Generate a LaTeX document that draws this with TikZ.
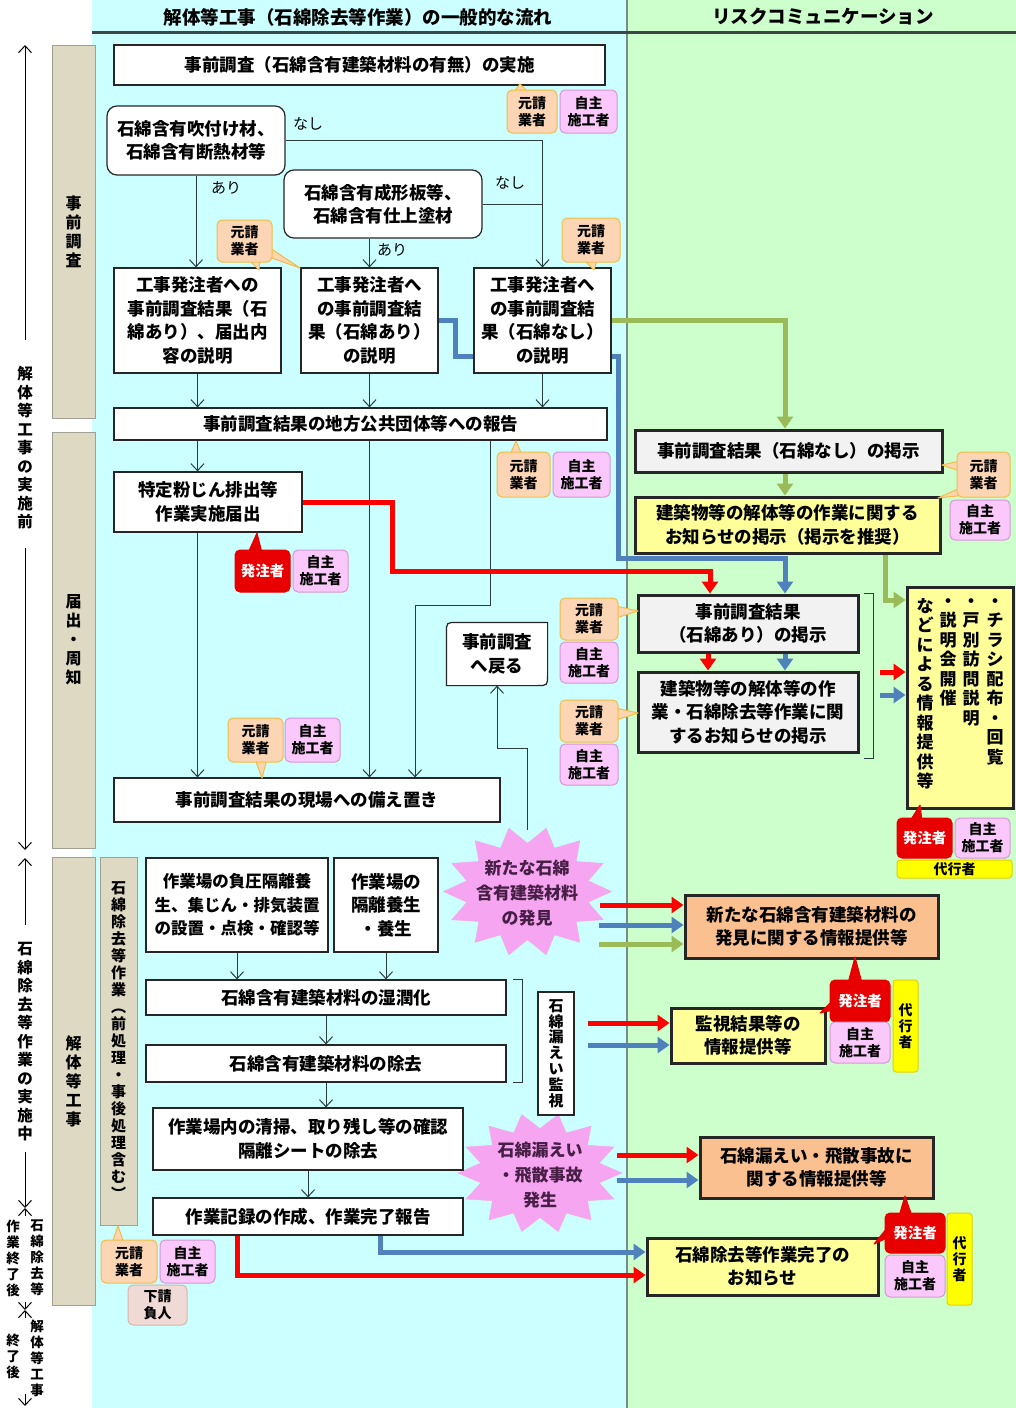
\documentclass[tikz,border=0pt]{standalone}
\usepackage{fontspec}
\setmainfont{Noto Sans CJK JP}
\usetikzlibrary{arrows.meta,calc}
\definecolor{cyanbg}{RGB}{204,255,255}
\definecolor{greenbg}{RGB}{204,255,204}
\definecolor{phasefill}{RGB}{221,217,195}
\definecolor{phaseedge}{RGB}{160,160,150}
\definecolor{gkfill}{RGB}{252,213,180}
\definecolor{gkedge}{RGB}{240,190,70}
\definecolor{jsfill}{RGB}{250,200,250}
\definecolor{jsedge}{RGB}{215,150,215}
\definecolor{hcfill}{RGB}{232,0,0}
\definecolor{dkfill}{RGB}{255,255,0}
\definecolor{dkedge}{RGB}{225,210,0}
\definecolor{stfill}{RGB}{240,218,214}
\definecolor{stedge}{RGB}{215,180,175}
\definecolor{boxgray}{RGB}{242,242,242}
\definecolor{boxyel}{RGB}{255,255,153}
\definecolor{boxorg}{RGB}{250,192,144}
\definecolor{arrred}{RGB}{255,0,0}
\definecolor{arrblue}{RGB}{79,129,189}
\definecolor{arrgreen}{RGB}{155,187,89}
\definecolor{flowc}{RGB}{40,60,60}
\definecolor{starfill}{RGB}{246,165,240}
\definecolor{startext}{RGB}{70,30,70}
\definecolor{divc}{RGB}{120,140,140}
\definecolor{headc}{RGB}{60,70,70}
\newcommand\fs[2]{\fontsize{#1}{#2}\selectfont}
\makeatletter
\def\vt#1{\vt@a#1\@nil}
\def\vt@a#1#2\@nil{#1\ifx\relax#2\relax\expandafter\@gobble\else\expandafter\@firstofone\fi{\\\vt@a#2\@nil}}
\makeatother
\newcommand\tail[4]{\filldraw[#1] #2 -- #3 -- #4 -- cycle;}
\newcommand\starburst[4]{\filldraw[fill=starfill, draw=starfill] ({#1+#3},#2) \foreach \k in {1,...,27}{ -- ({#1+ifthenelse(mod(\k,2)==0,1,0.74)*#3*cos(\k*12.857)},{#2+ifthenelse(mod(\k,2)==0,1,0.74)*#4*sin(\k*12.857)}) } -- cycle;}
\pgfdeclarelayer{back}
\pgfdeclarelayer{mid}
\pgfsetlayers{back,mid,main}
\tikzset{
 box/.style={draw=black!85, line width=1.2pt, fill=white, align=center, inner sep=0pt, font=\bfseries\fs{17.5}{23.5}},
 rbox/.style={box, rounded corners=10pt},
 thickbox/.style={box, line width=3pt},
 graybox/.style={thickbox, fill=boxgray},
 yelbox/.style={thickbox, fill=boxyel},
 orgbox/.style={thickbox, fill=boxorg},
 phase/.style={draw=phaseedge, fill=phasefill, line width=1pt, align=center, inner sep=0pt, font=\bfseries\fs{16}{19}},
 bub/.style={rounded corners=5pt, line width=1pt, align=center, inner sep=0pt, font=\bfseries\fs{14}{17}},
 genkou/.style={bub, fill=gkfill, draw=gkedge},
 jishu/.style={bub, fill=jsfill, draw=jsedge},
 hacchu/.style={bub, fill=hcfill, draw=hcfill, text=white, font=\bfseries\fs{14.5}{17}},
 daiko/.style={bub, rounded corners=3pt, fill=dkfill, draw=dkedge, font=\bfseries\fs{14}{16}},
 shita/.style={bub, fill=stfill, draw=stedge},
 tailg/.style={fill=gkfill, draw=gkedge, line width=1pt, line join=round},
 tailh/.style={fill=hcfill, draw=hcfill, line width=1pt, line join=round},
 flow/.style={draw=flowc, line width=1pt, -{Straight Barb[length=7pt,width=13pt]}},
 plain/.style={draw=flowc, line width=1pt},
 mline/.style={draw=black, line width=1pt},
 redarr/.style={draw=arrred, line width=5pt, -{Triangle[length=12pt,width=16pt]}},
 bluearr/.style={draw=arrblue, line width=5pt, -{Triangle[length=12pt,width=16pt]}},
 greenarr/.style={draw=arrgreen, line width=5pt, -{Triangle[length=12pt,width=16pt]}},
 lbl/.style={font=\fs{15}{17}, inner sep=0pt},
 vtxt/.style={font=\bfseries\fs{17}{19.5}, align=center, inner sep=0pt},
 startxt/.style={font=\bfseries\fs{17}{25}, align=center, inner sep=0pt, text=startext},
 margin/.style={font=\bfseries\fs{15.5}{18.5}, align=center, inner sep=0pt},
 marginsm/.style={font=\bfseries\fs{13.5}{16}, align=center, inner sep=0pt},
}
\begin{document}
\begin{tikzpicture}[x=1pt,y=-1pt]
\useasboundingbox (0,0) rectangle (1016,1408);
% ---------- headings
\node[font=\bfseries\fs{18.5}{20}, inner sep=0pt] (h1) at (358,17) {解体等工事（石綿除去等作業）の一般的な流れ};
\node[font=\bfseries\fs{18.5}{20}, inner sep=0pt] (h2) at (823,17) {リスクコミュニケーション};
% ---------- phase bars
\node[phase, minimum width=43, minimum height=373] (ph1) at (73.5,231.5) {\vt{事前調査}};
\node[phase, minimum width=43, minimum height=416] (ph2) at (73.5,640) {\vt{届出・周知}};
\node[phase, minimum width=43, minimum height=448] (ph3) at (73.5,1081) {\vt{解体等工事}};
\node[phase, minimum width=37, minimum height=368, font=\bfseries\fs{15}{17}] (ph4) at (118.5,1041) {\vt{石綿除去等作業︵前処理・事後処理含む︶}};
% ---------- left margin texts
\node[margin] (lm1) at (25,448) {\vt{解体等工事の実施前}};
\node[margin] (lm2) at (25,1042) {\vt{石綿除去等作業の実施中}};
\node[marginsm] (lm3a) at (37,1258) {\vt{石綿除去等}};
\node[marginsm] (lm3b) at (13,1258) {\vt{作業終了後}};
\node[marginsm] (lm4a) at (37,1358) {\vt{解体等工事}};
\node[marginsm] (lm4b) at (13,1356) {\vt{終了後}};
% ---------- left column boxes
\node[box, minimum width=491, minimum height=40] (bA) at (359.5,65) {事前調査（石綿含有建築材料の有無）の実施};
\node[rbox, minimum width=178, minimum height=69] (bB) at (196,140.5) {石綿含有吹付け材、\\石綿含有断熱材等};
\node[rbox, minimum width=198, minimum height=68] (bD0) at (383,204) {石綿含有成形板等、\\石綿含有仕上塗材};
\node[box, minimum width=167, minimum height=105] (bC) at (197.5,320.5) {工事発注者への\\事前調査結果（石\\綿あり）、届出内\\容の説明};
\node[box, minimum width=137, minimum height=105] (bD) at (369.5,320.5) {工事発注者へ\\の事前調査結\\果（石綿あり）\\の説明};
\node[box, minimum width=137, minimum height=105] (bE) at (542.5,320.5) {工事発注者へ\\の事前調査結\\果（石綿なし）\\の説明};
\node[box, minimum width=493, minimum height=32] (bF) at (360.5,424) {事前調査結果の地方公共団体等への報告};
\node[box, minimum width=188, minimum height=60] (bF2) at (208,502) {特定粉じん排出等\\作業実施届出};
\node[box, draw=none, fill=none, minimum width=100, minimum height=62] (bH2) at (497,654) {事前調査\\へ戻る};
\node[box, minimum width=386, minimum height=44] (bI) at (307,800) {事前調査結果の現場への備え置き};
\node[lbl] (tn1) at (308,124) {なし};
\node[lbl] (ta1) at (226,188) {あり};
\node[lbl] (tn2) at (510,183) {なし};
\node[lbl] (ta2) at (392,250) {あり};
% ---------- lower left
\node[box, minimum width=182, minimum height=94, font=\bfseries\fs{16.5}{23.5}] (bK1) at (237,905) {作業場の負圧隔離養\\生、集じん・排気装置\\の設置・点検・確認等};
\node[box, minimum width=104, minimum height=94] (bK2) at (386,905) {作業場の\\隔離養生\\・養生};
\node[box, minimum width=360, minimum height=35] (bL) at (326,997.5) {石綿含有建築材料の湿潤化};
\node[box, minimum width=360, minimum height=37] (bM) at (326,1063.5) {石綿含有建築材料の除去};
\node[box, minimum width=36, minimum height=123, font=\bfseries\fs{15}{15.8}] (bN) at (556,1053.5) {\vt{石綿漏えい監視}};
\node[box, minimum width=310, minimum height=62] (bO) at (308,1139) {作業場内の清掃、取り残し等の確認\\隔離シートの除去};
\node[box, minimum width=310, minimum height=37] (bP) at (308,1216.5) {作業記録の作成、作業完了報告};
% ---------- right column
\node[graybox, minimum width=307, minimum height=42] (bG) at (788.5,451) {事前調査結果（石綿なし）の掲示};
\node[yelbox, minimum width=305, minimum height=56] (bG2) at (787.5,525) {建築物等の解体等の作業に関する\\お知らせの掲示（掲示を推奨）};
\node[graybox, minimum width=220, minimum height=57] (bH) at (748,623.5) {事前調査結果\\（石綿あり）の掲示};
\node[graybox, minimum width=220, minimum height=80] (bH3) at (748,712) {建築物等の解体等の作\\業・石綿除去等作業に関\\するお知らせの掲示};
\node[yelbox, minimum width=106, minimum height=221] (bJ) at (960,697.5) {};
\node[vtxt, anchor=north] (jc1) at (995,598) {\vt{・チラシ配布・回覧}};
\node[vtxt, anchor=north] (jc2) at (971,598) {\vt{・戸別訪問説明}};
\node[vtxt, anchor=north] (jc3) at (948,598) {\vt{・説明会開催}};
\node[vtxt, anchor=north] (jc4) at (925,598) {\vt{などによる情報提供等}};
\node[orgbox, minimum width=253, minimum height=63] (bQ) at (811.5,926.5) {新たな石綿含有建築材料の\\発見に関する情報提供等};
\node[yelbox, minimum width=154, minimum height=55] (bR) at (748,1035.5) {監視結果等の\\情報提供等};
\node[orgbox, minimum width=233, minimum height=61] (bU) at (816.5,1167.5) {石綿漏えい・飛散事故に\\関する情報提供等};
\node[yelbox, minimum width=231, minimum height=57] (bT) at (762.5,1266.5) {石綿除去等作業完了の\\お知らせ};
% ---------- star texts
\node[startxt] (s1) at (527,893) {新たな石綿\\含有建築材料\\の発見};
\node[startxt] (s2) at (540,1175) {石綿漏えい\\・飛散事故\\発生};
% ---------- bubble tails
\tail{tailg}{(514,92)}{(520,84)}{(528,92)}
\tail{tailg}{(248,259)}{(259,270)}{(260,259)}
\tail{tailg}{(266,256)}{(300,268)}{(270,248)}
\tail{tailg}{(584,260)}{(594,270)}{(597,260)}
\tail{tailg}{(510,455)}{(516,441)}{(522,455)}
\tail{tailh}{(248,553)}{(257,533)}{(262,553)}
\tail{tailg}{(255,759)}{(262,778)}{(267,759)}
\tail{tailg}{(960,461)}{(942,465)}{(960,471)}
\tail{tailg}{(960,488)}{(938,498)}{(966,495)}
\tail{tailg}{(616,606)}{(638,611)}{(616,618)}
\tail{tailg}{(616,708)}{(638,713)}{(616,720)}
\tail{tailh}{(910,821)}{(920,805)}{(922,821)}
\tail{tailh}{(848,983)}{(855,957)}{(862,983)}
\tail{tailh}{(833,1000)}{(820,1013)}{(833,1010)}
\tail{tailh}{(899,1216)}{(905,1196)}{(912,1216)}
\tail{tailh}{(887,1228)}{(874,1244)}{(887,1238)}
\tail{tailg}{(112,1243)}{(118,1226)}{(124,1243)}
% ---------- bubbles
\node[genkou, minimum width=50, minimum height=43] (g1) at (532,111.5) {元請\\業者};
\node[jishu, minimum width=57, minimum height=43] (j1) at (588.5,111.5) {自主\\施工者};
\node[genkou, minimum width=55, minimum height=42] (g2) at (244.5,241) {元請\\業者};
\node[genkou, minimum width=58, minimum height=44] (g3) at (591,240) {元請\\業者};
\node[genkou, minimum width=53, minimum height=45] (g4) at (523.5,474.5) {元請\\業者};
\node[jishu, minimum width=57, minimum height=45] (j4) at (581.5,474.5) {自主\\施工者};
\node[hacchu, minimum width=55, minimum height=42] (h5) at (262.5,571) {発注者};
\node[jishu, minimum width=55, minimum height=42] (j5) at (320.5,571) {自主\\施工者};
\node[genkou, minimum width=55, minimum height=44] (g6) at (255.5,740) {元請\\業者};
\node[jishu, minimum width=55, minimum height=44] (j6) at (312.5,740) {自主\\施工者};
\node[genkou, minimum width=53, minimum height=45] (g7) at (983.5,474.5) {元請\\業者};
\node[jishu, minimum width=60, minimum height=40] (j7) at (980,520) {自主\\施工者};
\node[genkou, minimum width=58, minimum height=42] (g8) at (589,619) {元請\\業者};
\node[jishu, minimum width=58, minimum height=41] (j8) at (589,662.5) {自主\\施工者};
\node[genkou, minimum width=58, minimum height=42] (g9) at (589,721) {元請\\業者};
\node[jishu, minimum width=58, minimum height=41] (j9) at (589,764.5) {自主\\施工者};
\node[hacchu, minimum width=55, minimum height=40] (h10) at (924.5,838) {発注者};
\node[jishu, minimum width=55, minimum height=40] (j10) at (982.5,838) {自主\\施工者};
\node[daiko, minimum width=115, minimum height=18] (d10) at (954.5,869) {代行者};
\node[hacchu, minimum width=60, minimum height=42] (h11) at (860,1001) {発注者};
\node[jishu, minimum width=60, minimum height=41] (j11) at (860,1042.5) {自主\\施工者};
\node[daiko, minimum width=25, minimum height=92] (d11) at (905.5,1026) {\vt{代行者}};
\node[hacchu, minimum width=60, minimum height=40] (h12) at (915,1233) {発注者};
\node[jishu, minimum width=60, minimum height=42] (j12) at (915,1276) {自主\\施工者};
\node[daiko, minimum width=25, minimum height=92] (d12) at (959.5,1259) {\vt{代行者}};
\node[genkou, minimum width=56, minimum height=43] (g13) at (129,1261.5) {元請\\業者};
\node[jishu, minimum width=55, minimum height=43] (j13) at (187.5,1261.5) {自主\\施工者};
\node[shita, minimum width=59, minimum height=40] (s13) at (157.5,1305) {下請\\負人};
% ---------- coordinates
\coordinate (s1top) at (527,830);
\coordinate (s1a) at (600,905);
\coordinate (s1b) at (599,925);
\coordinate (s1c) at (599,944);
\coordinate (na) at (588,1023);
\coordinate (nb) at (588,1045);
\coordinate (s2a) at (617,1155);
\coordinate (s2b) at (617,1180);
\coordinate (ja) at (880,672);
\coordinate (jb) at (880,695);
\coordinate (pb) at ($(bP.south)+(72,0)$);
\coordinate (pr) at ($(bP.south)+(-71,0)$);
% ---------- connectors
\begin{pgfonlayer}{mid}
\draw[flow] (bB.south) -- (bB.south |- bC.north);
\draw[flow] (bB.east) -| (bE.north);
\draw[plain] (bD0.east) -- (bD0.east -| bE.north);
\draw[flow] (bD0.south -| bD.north) -- (bD.north);
\draw[flow] (bC.south) -- (bC.south |- bF.north);
\draw[flow] (bD.south) -- (bD.south |- bF.north);
\draw[flow] (bE.south) -- (bE.south |- bF.north);
\draw[flow] (bC.south |- bF.south) -- (bC.south |- bF2.north);
\draw[flow] (bC.south |- bF2.south) -- (bC.south |- bI.north);
\draw[flow] (bD.south |- bF.south) -- (bD.south |- bI.north);
\draw[flow] ($(bF.south)+(129.5,0)$) -- ++(0,165) -| ($(bI.north)+(108,0)$);
\draw[flow] (s1top) -- (527,748) -| (bH2.south);
\draw[flow] (bK1.south) -- (bK1.south |- bL.north);
\draw[flow] (bK2.south) -- (bK2.south |- bL.north);
\draw[flow] (bL.south) -- (bM.north);
\draw[flow] (bM.south) -- (bM.south |- bO.north);
\draw[flow] (bO.south) -- (bP.north);
% return box outline (rounded top-left and bottom-right corners)
\filldraw[fill=white, draw=black!85, line width=1.2pt] (bH2.south west) -- ($(bH2.north west)+(0,11)$) .. controls (bH2.north west) .. ($(bH2.north west)+(11,0)$) -- (bH2.north east) -- ($(bH2.south east)+(0,-11)$) .. controls (bH2.south east) .. ($(bH2.south east)+(-11,0)$) -- cycle;
% brackets
\draw[plain] ($(bL.north east)+(6,0)$) -- ++(10,0) |- ($(bM.south east)+(6,0)$);
\draw[plain] ($(bH.north east)+(4,0)$) -- ++(10,0) |- ($(bH3.south east)+(4,5)$);
% colored arrows
\draw[bluearr] (bD.east) -- ++(17,0) |- (618,356) |- ($(bH.north)+(37,-35)$) -- ($(bH.north)+(37,0)$);
\draw[redarr] (bF2.east) -- ++(90,0) |- ($(bH.north)+(-38,-22)$) -- ($(bH.north)+(-38,0)$);
\draw[greenarr] (bE.east) -| ($(bG.north)+(-3.5,0)$);
\draw[greenarr] ($(bG.south)+(-3.5,0)$) -- ($(bG2.north)+(-2.5,0)$);
\draw[greenarr] ($(bG2.south)+(97.5,0)$) |- ($(bJ.west)+(0,-97.5)$);
\draw[redarr] ($(bH.south)+(-40,0)$) -- ($(bH3.north)+(-40,0)$);
\draw[bluearr] ($(bH.south)+(37,0)$) -- ($(bH3.north)+(37,0)$);
\draw[redarr] (ja) -- (ja -| bJ.west);
\draw[bluearr] (jb) -- (jb -| bJ.west);
\draw[redarr] (s1a) -- (s1a -| bQ.west);
\draw[bluearr] (s1b) -- (s1b -| bQ.west);
\draw[greenarr] (s1c) -- (s1c -| bQ.west);
\draw[redarr] (na) -- (na -| bR.west);
\draw[bluearr] (nb) -- (nb -| bR.west);
\draw[redarr] (s2a) -- (s2a -| bU.west);
\draw[bluearr] (s2b) -- (s2b -| bU.west);
\draw[bluearr] (pb) |- ($(bT.west)+(0,-14.5)$);
\draw[redarr] (pr) |- ($(bT.west)+(0,8.5)$);
\end{pgfonlayer}
% ---------- background
\begin{pgfonlayer}{back}
\fill[white] (0,0) rectangle (1016,1408);
\fill[cyanbg] (92,0) rectangle (627,1408);
\fill[greenbg] (627,0) rectangle (1016,1408);
\draw[divc, line width=1.5pt] (627,0) -- (627,1408);
\draw[headc, line width=3pt] (92,32) -- (1016,32);
\starburst{527.5}{891.5}{84}{65}
\starburst{540}{1173}{82}{60}
% left margin arrows
\draw[mline, {Straight Barb[length=7pt,width=13pt]}-] (25,45) -- (25,340);
\draw[mline, -{Straight Barb[length=7pt,width=13pt]}] (25,548) -- (25,850);
\draw[mline, {Straight Barb[length=7pt,width=13pt]}-] (25,858) -- (25,925);
\draw[mline, -{Straight Barb[length=7pt,width=13pt]}] (25,1152) -- (25,1208);
\draw[mline, {Straight Barb[length=7pt,width=13pt]}-] (25,1208) -- (25,1216);
\draw[mline, -{Straight Barb[length=7pt,width=13pt]}] (25,1302) -- (25,1310);
\draw[mline, {Straight Barb[length=7pt,width=13pt]}-] (25,1310) -- (25,1318);
\draw[mline, -{Straight Barb[length=7pt,width=13pt]}] (25,1394) -- (25,1406);
\end{pgfonlayer}
\end{tikzpicture}
\end{document}
